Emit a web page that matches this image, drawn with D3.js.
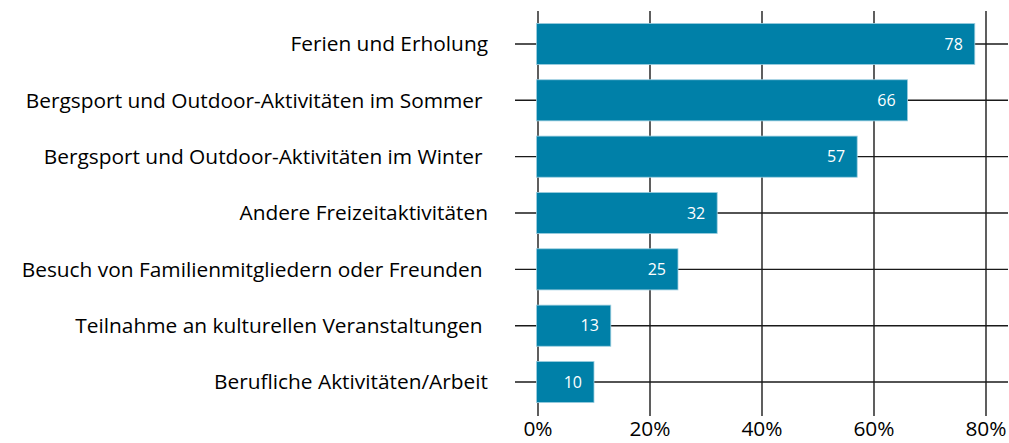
<!DOCTYPE html>
<html>
<head>
<meta charset="utf-8">
<script src="https://cdn.jsdelivr.net/npm/d3@7"></script>
<style>
  body { margin: 0; background: #fff; }
  text { font-family: "Open Sans", "Noto Sans", sans-serif; }
</style>
</head>
<body>
<svg id="chart" width="1009" height="443"></svg>
<script>
// categories (trailing spaces as in the original labels)
var categories = [
  "Ferien und Erholung",
  "Bergsport und Outdoor-Aktivitäten im Sommer ",
  "Bergsport und Outdoor-Aktivitäten im Winter ",
  "Andere Freizeitaktivitäten",
  "Besuch von Familienmitgliedern oder Freunden ",
  "Teilnahme an kulturellen Veranstaltungen ",
  "Berufliche Aktivitäten/Arbeit"
];
var values = [78, 66, 57, 32, 25, 13, 10];
var ticks = [0, 20, 40, 60, 80];

var svg = d3.select("#chart");

// X Scale
var x = d3.scaleLinear()
    .domain([0, 80])
    .range([538, 986]);

// Y Scale
var y = d3.scaleBand()
    .domain(categories)
    .range([15.8, 410.2])
    .paddingInner(0.27)
    .paddingOuter(0.135);

var lineColor = "#1a1a1a";

// vertical grid lines
svg.append("g").selectAll("line")
    .data(ticks)
    .enter().append("line")
        .attr("x1", function(d){ return x(d); })
        .attr("x2", function(d){ return x(d); })
        .attr("y1", 11)
        .attr("y2", 416)
        .attr("stroke", lineColor)
        .attr("stroke-width", 1.4);

// category lines (tick + line behind bars)
svg.append("g").selectAll("line")
    .data(categories)
    .enter().append("line")
        .attr("x1", 515)
        .attr("x2", 1008)
        .attr("y1", function(d){ return y(d) + y.bandwidth() / 2; })
        .attr("y2", function(d){ return y(d) + y.bandwidth() / 2; })
        .attr("stroke", lineColor)
        .attr("stroke-width", 1.4);

// Bars
var data = categories.map(function(c, i){ return { cat: c, v: values[i] }; });

svg.append("g").selectAll("rect")
    .data(data)
    .enter().append("rect")
        .attr("x", x(0) - 1.5)
        .attr("y", function(d){ return y(d.cat); })
        .attr("width", function(d){ return x(d.v) - x(0) + 1.5; })
        .attr("height", y.bandwidth())
        .attr("fill", "#0080a8")
        .attr("stroke", "#9fcfe0")
        .attr("stroke-width", 0.8);

// value labels
svg.append("g").selectAll("text")
    .data(data)
    .enter().append("text")
        .attr("x", function(d){ return x(d.v) - 12; })
        .attr("y", function(d){ return y(d.cat) + y.bandwidth() / 2; })
        .attr("dy", "0.35em")
        .attr("text-anchor", "end")
        .attr("font-size", "16px")
        .attr("fill", "#ffffff")
        .text(function(d){ return d.v; });

// category labels
var catLabels = svg.append("g").selectAll("text")
    .data(categories)
    .enter().append("text")
        .attr("x", 488)
        .attr("y", function(d){ return y(d) + y.bandwidth() / 2; })
        .attr("dy", "0.35em")
        .attr("text-anchor", "end")
        .attr("font-size", "20px")
        .attr("fill", "#000")
        .style("white-space", "pre")
        .text(function(d){ return d; });

// fit the font size so the long label spans about 457px like the original
var probe = svg.append("text").attr("font-size", "20px").text(categories[1].trim());
var w = probe.node().getComputedTextLength();
probe.remove();
var fs = 20 * 457 / w;
catLabels.attr("font-size", fs + "px");

// X tick labels
svg.append("g").selectAll("text")
    .data(ticks)
    .enter().append("text")
        .attr("x", function(d){ return x(d); })
        .attr("y", 429)
        .attr("dy", "0.35em")
        .attr("text-anchor", "middle")
        .attr("font-size", fs + "px")
        .attr("fill", "#000")
        .text(function(d){ return d + "%"; });
</script>
</body>
</html>
